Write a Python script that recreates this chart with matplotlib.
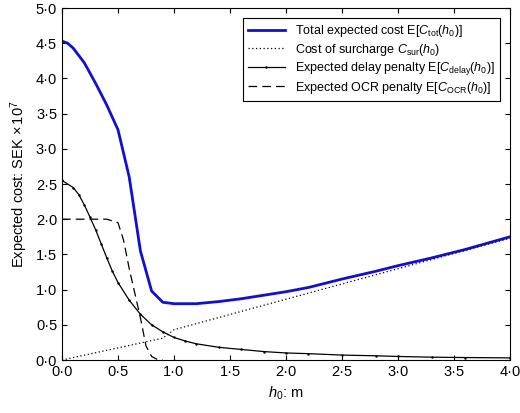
import matplotlib
matplotlib.use("Agg")
import matplotlib.pyplot as plt
from matplotlib.ticker import FuncFormatter

plt.rcParams['font.family'] = ['Liberation Sans', 'DejaVu Sans']
plt.rcParams['mathtext.fontset'] = 'custom'
plt.rcParams['mathtext.rm'] = 'Liberation Sans'
plt.rcParams['mathtext.it'] = 'Liberation Sans:italic'

x_tot = [0,0.05,0.1,0.2,0.3,0.4,0.5,0.6,0.7,0.8,0.9,1.0,1.2,1.4,1.6,1.8,2.0,2.2,2.5,2.8,3.0,3.3,3.6,4.0]
y_tot = [4.53,4.5,4.43,4.22,3.93,3.62,3.27,2.6,1.55,0.98,0.82,0.80,0.80,0.83,0.87,0.92,0.97,1.03,1.15,1.26,1.34,1.45,1.57,1.75]
x_sur = [0,0.9,1.0,4.0]
y_sur = [0,0.31,0.43,1.73]
x_del = [0,0.1,0.15,0.2,0.25,0.3,0.35,0.4,0.45,0.5,0.6,0.7,0.8,0.9,1.0,1.1,1.2,1.4,1.6,1.8,2.0,2.2,2.5,2.8,3.0,3.3,3.6,4.0]
y_del = [2.55,2.45,2.35,2.2,2.03,1.85,1.65,1.45,1.26,1.1,0.85,0.65,0.5,0.4,0.32,0.27,0.23,0.18,0.15,0.12,0.10,0.09,0.07,0.06,0.05,0.04,0.035,0.03]
x_ocr = [0,0.4,0.5,0.55,0.6,0.7,0.75,0.8,0.85,0.9]
y_ocr = [2.0,2.0,1.95,1.7,1.3,0.6,0.2,0.05,0.01,0.0]

fig = plt.figure(figsize=(5.2,4.13), dpi=100)
ax = fig.add_axes([62/520, 53/413, 448/520, 352/413])
ax.plot(x_tot, y_tot, color='#1010d0', lw=2, label=r'Total expected cost E[$C_{\rm tot}(h_0)$]')
ax.plot(x_sur, y_sur, color='k', lw=0.9, ls=(0,(1,2)), label=r'Cost of surcharge $C_{\rm sur}(h_0)$')
ax.plot(x_del, y_del, color='k', lw=0.9, marker='.', ms=1.5, label=r'Expected delay penalty E[$C_{\rm delay}(h_0)$]')
ax.plot(x_ocr, y_ocr, color='k', lw=0.9, ls=(0,(7,4)), label=r'Expected OCR penalty E[$C_{\rm OCR}(h_0)$]')
ax.set_xlim(0,4); ax.set_ylim(0,5)
ax.set_xticks([i*0.5 for i in range(9)]); ax.set_yticks([i*0.5 for i in range(11)])
fmt = FuncFormatter(lambda v,p: f"{v:.1f}".replace('.', '\u00b7'))
ax.xaxis.set_major_formatter(fmt); ax.yaxis.set_major_formatter(fmt)
ax.tick_params(direction='in', top=True, right=True, labelsize=10.5)
ax.set_xlabel(r'$h_0$: m', fontsize=10.5)
ax.set_ylabel(r'Expected cost: SEK $\times\,10^7$', fontsize=10.5)
leg = ax.legend(loc='upper right', fontsize=9, fancybox=False, edgecolor='k', framealpha=1,
                handlelength=3, borderaxespad=0.8, labelspacing=0.2)
leg.get_frame().set_linewidth(0.8)
fig.savefig('out.png', dpi=100)
